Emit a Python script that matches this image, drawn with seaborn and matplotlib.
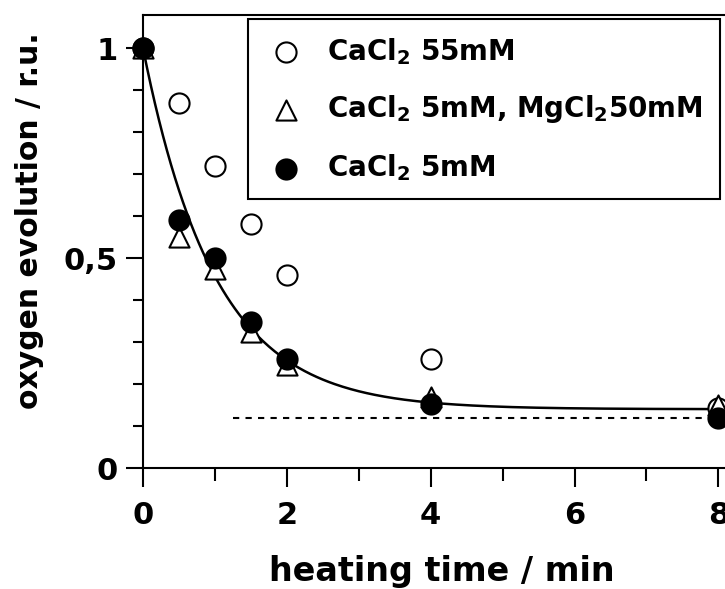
import numpy as np
import pandas as pd
import matplotlib
matplotlib.use("Agg")
import matplotlib.pyplot as plt
import seaborn as sns

# values
time_min = [0, 0.5, 1, 1.5, 2, 4, 8]
cacl2_55 = [1.0, 0.87, 0.72, 0.58, 0.46, 0.26, 0.143]
cacl2_5_mgcl2_50 = [1.0, 0.55, 0.475, 0.325, 0.245, 0.168, 0.15]
cacl2_5 = [1.0, 0.59, 0.50, 0.348, 0.26, 0.152, 0.118]

# exponential fit drawn through the data (plateau + amplitude * exp(-t / tau))
fit_plateau = 0.14
fit_amplitude = 0.86
fit_tau = 1.0

# dashed reference level
ref_level = 0.12
ref_start = 1.25

labels = ["CaCl$_2$ 55mM", "CaCl$_2$ 5mM, MgCl$_2$50mM", "CaCl$_2$ 5mM"]

df = pd.DataFrame({
    "time": time_min * 3,
    "value": cacl2_55 + cacl2_5_mgcl2_50 + cacl2_5,
    "series": [labels[0]] * 7 + [labels[1]] * 7 + [labels[2]] * 7,
})

sns.set_style("ticks")
plt.rcParams["font.family"] = ["DejaVu Sans"]
plt.rcParams["font.weight"] = "bold"
plt.rcParams["mathtext.fontset"] = "dejavusans"
plt.rcParams["mathtext.default"] = "bf"
plt.rcParams["text.color"] = "black"
plt.rcParams["axes.labelcolor"] = "black"
plt.rcParams["axes.edgecolor"] = "black"
plt.rcParams["xtick.color"] = "black"
plt.rcParams["ytick.color"] = "black"

fig = plt.figure(figsize=(7.25, 5.89), dpi=100)
ax = fig.add_axes([143 / 725, (589 - 468) / 589, 597 / 725, 453 / 589])

t_fit = np.linspace(0, 8.3, 300)
fit_df = pd.DataFrame({"time": t_fit,
                       "value": fit_plateau + fit_amplitude * np.exp(-t_fit / fit_tau)})
sns.lineplot(data=fit_df, x="time", y="value", color="black", lw=1.8, ax=ax, zorder=2)
ax.hlines(ref_level, ref_start, 8.3, colors="black", lw=1.5, linestyles=(0, (3, 3)), zorder=1)

styles = {
    labels[0]: dict(marker="o", facecolor="white"),
    labels[1]: dict(marker="^", facecolor="white"),
    labels[2]: dict(marker="o", facecolor="black"),
}
for i, lab in enumerate(labels):
    sub = df[df["series"] == lab]
    sns.scatterplot(data=sub, x="time", y="value", marker=styles[lab]["marker"],
                    color=styles[lab]["facecolor"], edgecolor="black", linewidth=1.5,
                    s=210, label=lab, ax=ax, zorder=3 + i, clip_on=False)

ax.set_xlim(0, 8.3)
ax.set_ylim(0, 1.079)
ax.set_xticks([0, 2, 4, 6, 8])
ax.set_xticks([1, 3, 5, 7], minor=True)
ax.set_yticks([0, 0.5, 1])
ax.set_yticklabels(["0", "0,5", "1"])
ax.set_yticks(np.arange(0.1, 1.0, 0.1), minor=True)
ax.set_xticklabels(["0", "2", "4", "6", "8"])

for sp in ax.spines.values():
    sp.set_linewidth(1.5)
    sp.set_visible(True)
ax.tick_params(axis="both", which="both", width=1.5, direction="out", labelsize=22)
ax.tick_params(axis="x", which="major", length=14, pad=10)
ax.tick_params(axis="x", which="minor", length=9)
ax.tick_params(axis="y", which="major", length=12, pad=6)
ax.tick_params(axis="y", which="minor", length=7)

ax.set_xlabel("heating time / min", fontsize=24, fontweight="bold", labelpad=18)
ax.set_ylabel("oxygen evolution / r.u.", fontsize=21.5, fontweight="bold")
ax.yaxis.set_label_coords(-99 / 597, 0.547)

leg = ax.legend(loc="upper left", bbox_to_anchor=(0.176, 0.991), borderaxespad=0,
                frameon=True, fancybox=False, framealpha=1, edgecolor="black",
                prop={"size": 20, "weight": "bold"}, labelspacing=0.96,
                borderpad=0.6, handlelength=1.5, handletextpad=0.75)
leg.get_frame().set_linewidth(1.5)

fig.savefig("out.png", dpi=100)
